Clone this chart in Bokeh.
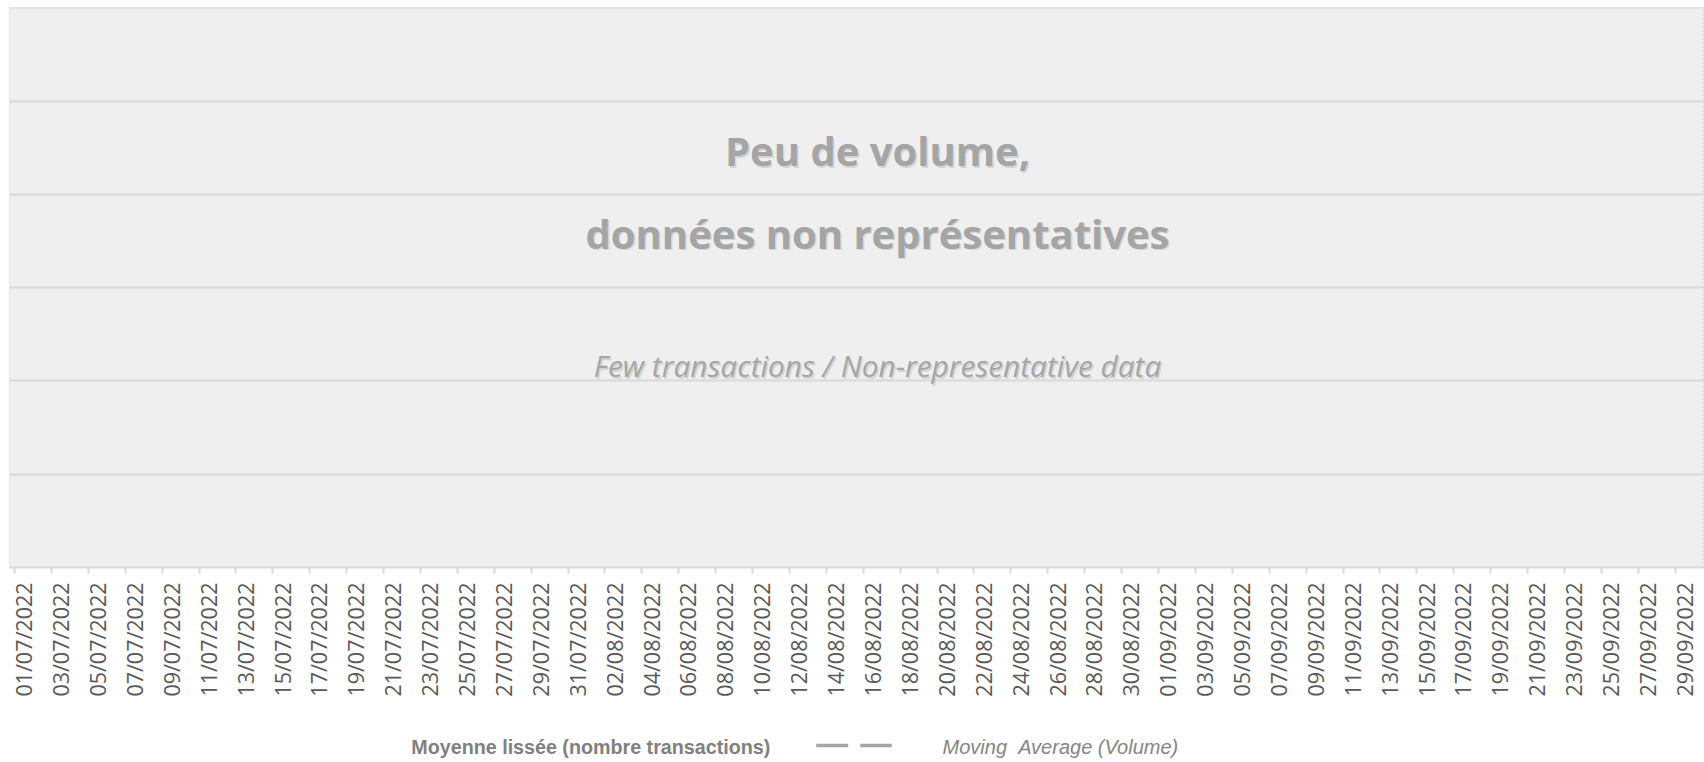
import math
from bokeh.plotting import figure
from bokeh.layouts import column
from bokeh.models import FixedTicker, Label, Range1d
from bokeh.core.properties import value
from bokeh.embed import file_html
from bokeh.resources import INLINE

# ---- data -------------------------------------------------------------
n_days = 92  # 01/07/2022 .. 30/09/2022, one category per day
tick_labels = [
    "01/07/2022", "03/07/2022", "05/07/2022", "07/07/2022", "09/07/2022",
    "11/07/2022", "13/07/2022", "15/07/2022", "17/07/2022", "19/07/2022",
    "21/07/2022", "23/07/2022", "25/07/2022", "27/07/2022", "29/07/2022",
    "31/07/2022", "02/08/2022", "04/08/2022", "06/08/2022", "08/08/2022",
    "10/08/2022", "12/08/2022", "14/08/2022", "16/08/2022", "18/08/2022",
    "20/08/2022", "22/08/2022", "24/08/2022", "26/08/2022", "28/08/2022",
    "30/08/2022", "01/09/2022", "03/09/2022", "05/09/2022", "07/09/2022",
    "09/09/2022", "11/09/2022", "13/09/2022", "15/09/2022", "17/09/2022",
    "19/09/2022", "21/09/2022", "23/09/2022", "25/09/2022", "27/09/2022",
    "29/09/2022",
]
tick_step = 2
y_ticks = [0, 1, 2, 3, 4, 5, 6]
moving_average_x = []   # no representative data
moving_average_y = []

title_line1 = "Peu de volume,"
title_line2 = "données non représentatives"
subtitle = "Few transactions / Non-representative data"
legend_left = "Moyenne lissée (nombre transactions)"
legend_right = "Moving \u00a0Average (Volume)"

W = 1704
# ---- main figure --------------------------------------------------------
p = figure(
    width=W, height=715,
    x_range=Range1d(-0.771, 91.09), y_range=Range1d(0, 6.005),
    output_backend="svg", toolbar_location=None, tools="",
    min_border_left=9, min_border_right=0, min_border_top=7,
    min_border_bottom=148,
)
p.title.visible = False
p.background_fill_color = "#EFEFEF"
p.border_fill_color = "white"
p.outline_line_color = "#D9D9D9"
p.outline_line_dash = "2 2"
p.outline_line_width = 1

p.line(moving_average_x, moving_average_y, line_color="#A6A6A6",
       line_width=3.5, line_dash="32 12")

p.yaxis.visible = False
p.xgrid.visible = False
p.ygrid.ticker = FixedTicker(ticks=y_ticks)
p.ygrid.grid_line_color = "#D9D9D9"
p.ygrid.grid_line_width = 2

label_pos = [i * tick_step for i in range(len(tick_labels))]
boundaries = [i * tick_step - 0.5 for i in range(len(tick_labels) + 1)]
ax = p.xaxis[0]
ax.ticker = FixedTicker(ticks=label_pos, minor_ticks=boundaries)
ax.major_label_overrides = {pos: lab for pos, lab in zip(label_pos, tick_labels)}
ax.major_label_orientation = math.pi / 2
ax.major_label_standoff = 9
ax.major_label_text_font = "Open Sans"
ax.major_label_text_font_size = "21.5px"
ax.major_label_text_color = "#595959"
ax.major_tick_line_color = None
ax.major_tick_out = 0
ax.major_tick_in = 0
ax.minor_tick_line_color = "#D9D9D9"
ax.minor_tick_line_width = 2
ax.minor_tick_out = 6
ax.minor_tick_in = 0
ax.axis_line_color = "#D9D9D9"
ax.axis_line_width = 2

def add_text(txt, x, y, size, style, color, shadow=True):
    if shadow:
        p.add_layout(Label(x=x, y=y, x_units="screen", y_units="screen",
                           x_offset=1.5, y_offset=-1.5, text=txt,
                           text_font="Open Sans", text_font_size=size,
                           text_font_style=style, text_color="#BDBDBD",
                           text_alpha=0.55, text_align="center",
                           text_baseline="alphabetic"))
    p.add_layout(Label(x=x, y=y, x_units="screen", y_units="screen", text=txt,
                       text_font="Open Sans", text_font_size=size,
                       text_font_style=style, text_color=color,
                       text_align="center", text_baseline="alphabetic"))

add_text(title_line1, 868, 417, "40px", "bold", "#A5A5A5")
add_text(title_line2, 868, 334.5, "40px", "bold", "#A5A5A5")
add_text(subtitle, 868, 202, "29.8px", "italic", "#A6A6A6")

# ---- legend row -----------------------------------------------------------
lg = figure(
    width=W, height=47, x_range=Range1d(0, W), y_range=Range1d(0, 47),
    output_backend="svg", toolbar_location=None, tools="",
    min_border=0, outline_line_color=None,
)
lg.title.visible = False
lg.axis.visible = False
lg.grid.visible = False
lg.background_fill_color = "white"
lg.border_fill_color = "white"

lg.text(x=[404], y=[15.6], text=[legend_left], text_font=value("Liberation Sans"),
        text_font_size="19.7px", text_font_style="bold", text_color="#808080",
        text_align="left", text_baseline="alphabetic")
lg.line(x=[811, 887], y=[17, 17], line_color="#A6A6A6", line_width=3.5,
        line_dash="32 12")
lg.text(x=[938], y=[15.6], text=[legend_right], text_font=value("Liberation Sans"),
        text_font_size="20px", text_font_style="italic", text_color="#858585",
        text_align="left", text_baseline="alphabetic")

layout = column(p, lg, spacing=0)
open("out.html", "w").write(file_html(layout, INLINE))
